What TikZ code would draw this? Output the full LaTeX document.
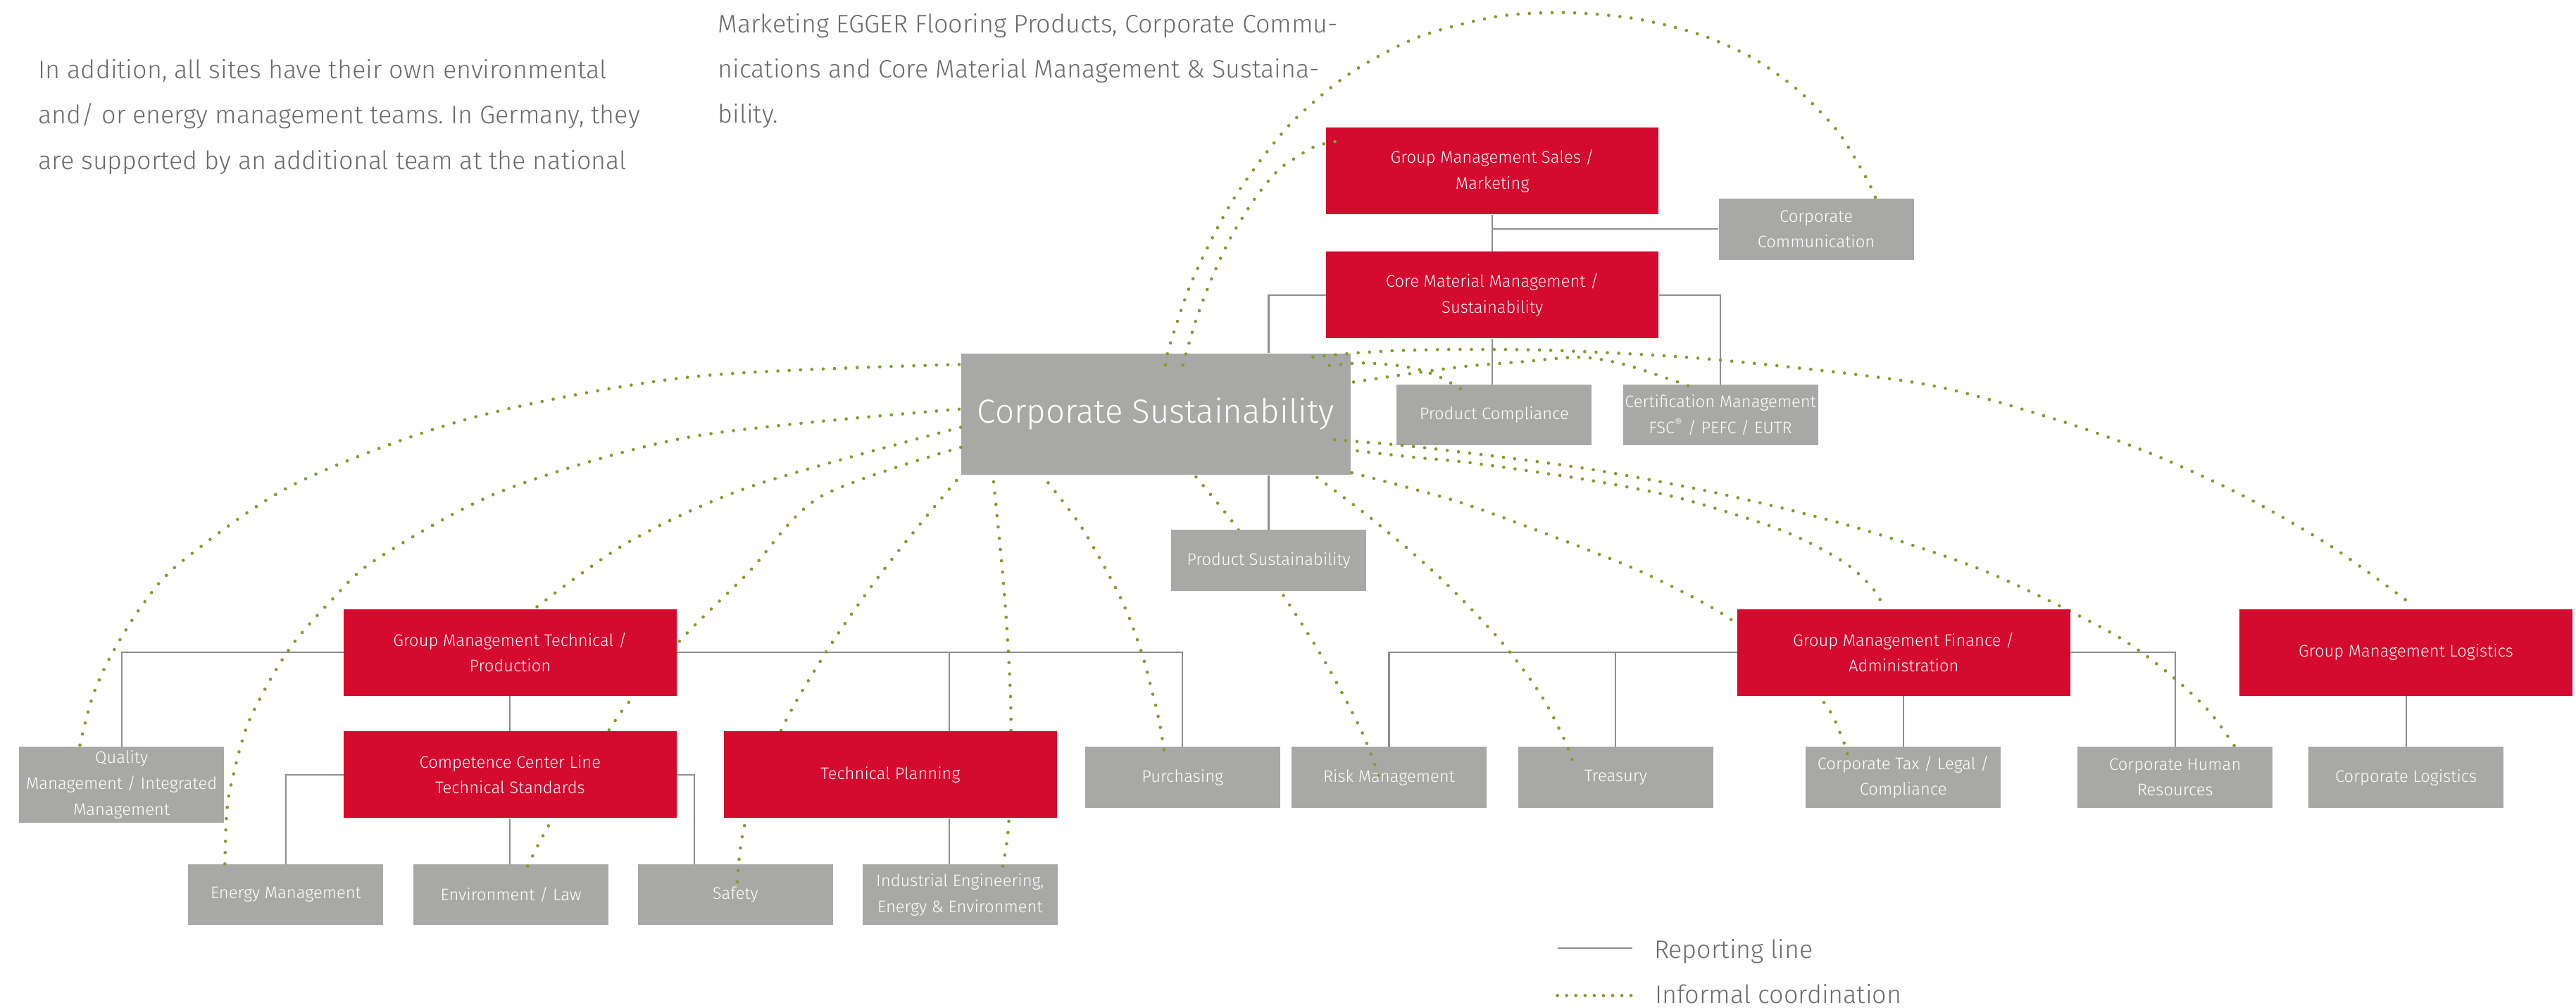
\documentclass[tikz,border=0pt]{standalone}
\usepackage{fontspec}
\setmainfont{Fira Sans}[UprightFont={* Light}]
\usetikzlibrary{calc}
\definecolor{egred}{HTML}{D40A2E}
\definecolor{boxgrey}{HTML}{A8A8A6}
\definecolor{linegrey}{HTML}{8E8E8E}
\definecolor{txtgrey}{HTML}{6A6A69}
\definecolor{dotgreen}{HTML}{7BA02E}
\pgfdeclarelayer{front}
\pgfsetlayers{main,front}
\newcommand\bxfont{\fontsize{10.2}{15.7}\selectfont}
\newcommand\csfont{\fontsize{20.3}{25}\selectfont}
\newcommand\parafont{\fontsize{15.4}{27.5}\selectfont}
\frenchspacing
\begin{document}
\begin{tikzpicture}[x=1pt,y=-1pt,
  box/.style={inner sep=0pt, align=center, text=white, font=\bxfont},
  redbox/.style={box, fill=egred, minimum width=202.5pt, minimum height=52.7pt},
  greybox/.style={box, fill=boxgrey, minimum width=118.7pt, minimum height=37pt},
  rep/.style={draw=linegrey, line width=0.9pt},
  informal/.style={draw=dotgreen, line width=2pt, line cap=round, dash pattern=on 0pt off 6.9pt},
  para/.style={anchor=base west, inner sep=0pt, text=txtgrey, font=\parafont}]
\useasboundingbox (0,0) rectangle (1568,613);
\fill[white] (0,0) rectangle (1568,613);

% text
\node[para] (l1) at (23.2,48) {In addition, all sites have their own environmental};
\node[para] (l2) at (23.2,75.4) {and/ or energy management teams. In Germany, they};
\node[para] (l3) at (23.2,102.9) {are supported by an additional team at the national};
\node[para] (r1) at (436.8,20) {Marketing EGGER Flooring Products, Corporate Commu-};
\node[para] (r2) at (436.8,47.5) {nications and Core Material Management \& Sustaina-};
\node[para] (r3) at (436.8,75) {bility.};

% boxes (below dots)
\node[redbox] (gms) at (908.4,104.1) {Group Management Sales /\\Marketing};
\node[greybox] (cc) at (1105.5,139.5) {Corporate\\Communication};
\node[redbox] (cmm) at (908.4,179.5) {Core Material Management /\\Sustainability};
\node[box, fill=boxgrey, minimum width=237pt, minimum height=74pt, font=\csfont] (cs) at (703.5,252) {Corporate Sustainability};
\node[greybox] (pc) at (909.5,252.6) {Product Compliance};
\node[greybox] (cert) at (1047.2,252.6) {Certification Management\\FSC\textsuperscript{®} / PEFC / EUTR};
\node[box, fill=boxgrey, minimum width=125pt, minimum height=46pt] (qual) at (74,477.5) {Quality\\Management / Integrated\\Management};
\node[greybox] (purch) at (719.8,473) {Purchasing};
\node[greybox] (risk) at (845.5,473) {Risk Management};
\node[greybox] (treas) at (983.5,473) {Treasury};
\node[greybox] (tax) at (1158.5,473) {Corporate Tax / Legal /\\Compliance};
\node[greybox] (hr) at (1324,473) {Corporate Human\\Resources};
\node[greybox] (clog) at (1464.5,473) {Corporate Logistics};
\node[redbox] (gml) at (1464.5,397) {Group Management Logistics};
\node[greybox] (energy) at (174,544.5) {Energy Management};
\node[greybox] (env) at (311,544.5) {Environment / Law};
\node[greybox] (safety) at (447.6,544.5) {Safety};
\node[greybox] (ind) at (584.4,544.5) {Industrial Engineering,\\Energy \& Environment};

% boxes above dots
\begin{pgfonlayer}{front}
\node[redbox] (gmt) at (310.5,397) {Group Management Technical /\\Production};
\node[redbox] (ccl) at (310.5,471.4) {Competence Center Line\\Technical Standards};
\node[redbox] (tp) at (542,471.4) {Technical Planning};
\node[greybox] (ps) at (772.2,341) {Product Sustainability};
\node[redbox] (gmf) at (1158.8,397) {Group Management Finance /\\Administration};
\end{pgfonlayer}

% reporting lines
\draw[rep] (gms.south) -- (cmm.north);
\draw[rep] (gms.south |- cc.west) -- (cc.west);
\draw[rep] (cmm.west) -| (ps.north |- cs.north);
\draw[rep] (cmm.east) -| (cert.north);
\draw[rep] (cmm.south) -- (cmm.south |- pc.north);
\draw[rep] (ps.north |- cs.south) -- (ps.north);
\draw[rep] (gmt.west) -| (qual.north);
\draw[rep] (gmt.east) -| (purch.north);
\coordinate (tpx) at ($(tp.north)+(36,0)$);
\draw[rep] (tpx |- gmt.east) -- (tpx);
\draw[rep] (tp.south -| tpx) -- (ind.north -| tpx);
\draw[rep] (gmt.south) -- (ccl.north);
\draw[rep] (ccl.west) -| (energy.north);
\draw[rep] (ccl.east) -| ($(safety.north)+(-25,0)$);
\draw[rep] (ccl.south) -- (ccl.south |- env.north);
\draw[rep] (gmf.west) -| (risk.north);
\draw[rep] (treas.north |- gmf.west) -- (treas.north);
\draw[rep] (gmf.east) -| (hr.north);
\draw[rep] (gmf.south) -- (gmf.south |- tax.north);
\draw[rep] (gml.south) -- (clog.north);

% informal coordination: start / end points
\coordinate (a1) at ($(cs.north west)+(-1,7)$);   \coordinate (b1) at ($(qual.north west)+(36.5,4.5)$);
\coordinate (a2) at ($(cs.west)+(-1,-3)$);        \coordinate (b2) at ($(energy.north west)+(22.35,5)$);
\coordinate (a3) at ($(cs.west)+(0,8)$);          \coordinate (b3) at ($(gmt.north)+(14.8,0)$);
\coordinate (a4) at ($(cs.west)+(0,20.2)$);       \coordinate (b4) at ($(env.north west)+(67.95,5)$);
\coordinate (a5) at ($(cs.south west)+(-2.6,3.2)$); \coordinate (b5) at ($(safety.north west)+(60.75,11)$);
\coordinate (a6) at ($(cs.south west)+(20,4)$);   \coordinate (b6) at ($(ind.north west)+(84.75,5)$);
\coordinate (a7) at ($(cs.south west)+(53.2,4.6)$); \coordinate (b7) at ($(purch.north west)+(48.95,7.5)$);
\coordinate (a8) at ($(cs.south)+(24.5,1)$);      \coordinate (b8) at ($(risk.north west)+(53.85,19.5)$);
\coordinate (a9) at ($(cs.south east)+(-20.5,1.3)$); \coordinate (b9) at ($(treas.north west)+(33.25,8.5)$);
\coordinate (a10) at ($(cs.south east)+(0.7,-1.5)$); \coordinate (b10) at ($(tax.north west)+(26.35,8.5)$);
\coordinate (a11) at ($(cs.east)+(4,22.4)$);      \coordinate (b11) at ($(gmf.north)+(-12.4,-1.85)$);
\coordinate (a12) at ($(cs.east)+(-10,15.6)$);    \coordinate (b12) at ($(hr.north east)+(-20.05,4.7)$);
\coordinate (a13) at ($(cs.north east)+(-23,2.4)$); \coordinate (b13) at ($(gml.north)+(1.7,-3.95)$);
\coordinate (a14) at ($(cs.north east)+(-13,7.6)$); \coordinate (b14) at ($(pc.north west)+(41.25,4.5)$);
\coordinate (a15) at ($(cs.north east)+(1.7,17.7)$); \coordinate (b15) at ($(cert.north west)+(43.15,2.1)$);
\coordinate (a16) at ($(cs.north)+(5.9,7.3)$);    \coordinate (b16) at ($(cc.north east)+(-21.65,4.5)$);
\coordinate (a17) at ($(cs.north)+(16.5,7.3)$);   \coordinate (b17) at ($(gms.north west)+(11.85,7.65)$);

\draw[informal] plot[smooth] coordinates {(a1) (421,229.3) (287,254.3) (179.8,294.3) (111,341.4) (87.5,367) (68.6,397) (57,422) (49.6,449) (b1)};
\draw[informal] plot[smooth] coordinates {(a2) (421,265.7) (306,298.6) (229.6,340) (202,365) (175,396.5) (151.5,439) (140.4,478.6) (137.7,499.3) (b2)};
\draw[informal] plot[smooth] coordinates {(a3) (458,295.7) (382.3,330) (b3)};
\draw[informal] plot[smooth] coordinates {(a4) (499,302.5) (455,349) (415.6,388) (384.6,425) (372.3,441.8) (335.3,500) (b4)};
\draw[informal] plot[smooth] coordinates {(a5) (560,319) (533.8,352.2) (505.5,392.6) (477,441.2) (453.8,500) (b5)};
\draw[informal] plot[smooth] coordinates {(a6) (611.4,362) (615.3,431.4) (614,500.8) (b6)};
\draw[informal] plot[smooth] coordinates {(a7) (658.9,321.7) (682,363.7) (694.9,397.2) (705.3,437.6) (b7)};
\draw[informal] plot[smooth] coordinates {(a8) (741,306) (753.5,322) (781,362) (806.7,403) (829,445.5) (b8)};
\draw[informal] plot[smooth] coordinates {(a9) (829.8,311.7) (857,334) (878,353) (897.8,373) (916.8,394) (937.6,422.3) (950.8,447) (b9)};
\draw[informal] plot[smooth] coordinates {(a10) (863,298.3) (896.6,308.3) (964.5,333.8) (1007,351.6) (1056.3,378.8) (1107.7,424.5) (1121.5,449.6) (b10)};
\draw[informal] plot[smooth] coordinates {(a11) (861,278.3) (895.8,281.7) (964.5,291.7) (1020.2,302.6) (1073.3,318.6) (1099.2,329.2) (1123.5,342.8) (1139.2,357.1) (b11)};
\draw[informal] plot[smooth] coordinates {(a12) (847,270.4) (882,274.2) (964.5,285) (1047.7,300.6) (1129.4,320.9) (1209.1,347.9) (1284.6,384.8) (1319,409) (1344.6,432.8) (b12)};
\draw[informal] plot[smooth] coordinates {(a13) (826.7,214.7) (854.7,213.2) (896.8,212.6) (953,213.5) (1044.8,218.9) (1169.5,233.4) (1249,254.5) (1307.8,275.4) (1364.6,301.3) (1418.7,332.3) (b13)};
\draw[informal] plot[smooth] coordinates {(a14) (829.3,220.9) (849,222.2) (862.5,224.6) (875.2,228.9) (887,235.3) (b14)};
\draw[informal] plot[smooth] coordinates {(a15) (857.5,227.5) (892.3,222.9) (926.7,220.1) (962.1,217.4) (988.4,221.7) (1015.3,230.4) (b15)};
\draw[informal] plot[smooth] coordinates {(a16) (712.3,209.1) (726,169.9) (751,120.9) (784,77) (820.8,45.3) (862.8,22.8) (911,10.1) (953.6,7.7) (995,11.3) (1034,20.8) (1067,35.4) (1095,55.4) (1119,80.5) (1137,110.2) (b16)};
\draw[informal] plot[smooth] coordinates {(a17) (727.7,195.6) (737.5,169.5) (749.4,144) (764.4,120) (778,103.6) (789,95.8) (801.5,88.7) (b17)};

% legend
\node[para] (lrep) at (1006.7,583) {Reporting line};
\node[para] (linf) at (1007.3,610.4) {Informal coordination};
\coordinate (lr) at (948,577);
\coordinate (li) at (948,605.8);
\draw[rep] (lr) -- ++(45.5,0);
\draw[informal, dash pattern=on 0pt off 5.6pt] (li) -- ++(45,0);
\end{tikzpicture}
\end{document}
